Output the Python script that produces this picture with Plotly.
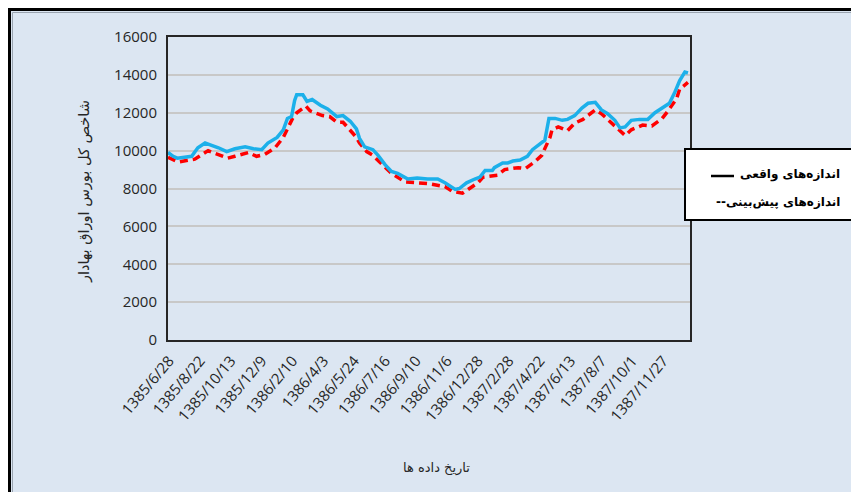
import plotly.graph_objects as go

# ---- data ----
tick_labels = ["1385/6/28", "1385/8/22", "1385/10/13", "1385/12/9", "1386/2/10",
               "1386/4/3", "1386/5/24", "1386/7/16", "1386/9/10", "1386/11/6",
               "1386/12/28", "1387/2/28", "1387/4/22", "1387/6/13", "1387/8/7",
               "1387/10/1", "1387/11/27"]
tick_days = [1 + 30 * k for k in range(len(tick_labels))]

actual_day = [0, 5, 9, 17, 23, 29, 36, 41, 49, 57, 65, 75, 83, 91, 97, 106, 112, 116,
              120, 123, 125, 131, 135, 140, 148, 155, 164, 170, 177, 183, 186, 191,
              199, 204, 211, 217, 223, 233, 242, 252, 262, 269, 279, 283, 290, 298,
              303, 308, 315, 317, 325, 330, 335, 342, 349, 354, 361, 366, 370, 376,
              383, 388, 395, 402, 408, 415, 421, 427, 434, 439, 444, 450, 458, 466,
              473, 480, 487, 492, 497, 502, 505]
actual_val = [9900, 9700, 9600, 9650, 9700, 10150, 10400, 10300, 10150, 9950, 10100,
              10200, 10100, 10050, 10400, 10700, 11100, 11700, 11800, 12650, 12950,
              12950, 12600, 12700, 12400, 12200, 11800, 11850, 11550, 11150, 10650,
              10200, 10050, 9750, 9250, 8900, 8800, 8500, 8550, 8500, 8500, 8300,
              7950, 8000, 8300, 8500, 8600, 8950, 8950, 9100, 9350, 9350, 9450, 9500,
              9700, 10050, 10350, 10550, 11700, 11700, 11600, 11650, 11850, 12250,
              12500, 12550, 12150, 11950, 11600, 11200, 11250, 11600, 11650, 11650,
              12000, 12250, 12500, 13050, 13700, 14150, 14100]

pred_day = [0, 10, 26, 39, 46, 58, 65, 78, 86, 94, 104, 112, 117, 121, 125, 134, 138,
            150, 157, 164, 170, 183, 186, 193, 199, 209, 217, 230, 248, 254, 269, 276,
            286, 293, 301, 306, 320, 327, 340, 347, 356, 363, 371, 373, 379, 388, 395,
            403, 415, 421, 429, 436, 444, 450, 461, 470, 480, 485, 494, 497, 505]
pred_val = [9650, 9400, 9550, 10000, 9850, 9600, 9700, 9900, 9700, 9800, 10150, 10700,
            11250, 11700, 12000, 12350, 12100, 11850, 11800, 11500, 11500, 10700, 10400,
            9950, 9750, 9250, 8800, 8350, 8250, 8250, 8100, 7850, 7750, 8000, 8300,
            8600, 8700, 9000, 9100, 9050, 9400, 9750, 10700, 11100, 11250, 11050, 11450,
            11650, 12150, 11950, 11550, 11250, 10800, 11100, 11350, 11300, 11700, 12050,
            12750, 13250, 13600]

y_ticks = [0, 2000, 4000, 6000, 8000, 10000, 12000, 14000, 16000]
y_tick_text = [str(v) for v in y_ticks]

# ---- layout geometry (pixels) ----
W, H = 851, 492
L, R, T, B = 168, 690, 37, 340


def px(xp):
    return (xp - L) / (R - L)


def py(yp):
    return (B - yp) / (B - T)


fig = go.Figure()
fig.add_trace(go.Scatter(x=pred_day, y=pred_val, mode="lines",
                         line=dict(color="#ff0000", width=3.5, dash="8px,5px"),
                         showlegend=False))
fig.add_trace(go.Scatter(x=actual_day, y=actual_val, mode="lines",
                         line=dict(color="#1cb0ea", width=3.5),
                         showlegend=False))

fig.update_layout(
    width=W, height=H,
    margin=dict(l=L, r=W - R, t=T, b=H - B),
    paper_bgcolor="white",
    plot_bgcolor="white",
    showlegend=False,
    xaxis=dict(range=[0, 507], tickvals=tick_days, ticktext=tick_labels,
               tickangle=-50, showgrid=False, zeroline=False, ticks="",
               showline=True, linecolor="#262626", linewidth=2, mirror=True,
               tickfont=dict(family="Open Sans", size=15, color="#262626"),
               ticklabelstandoff=4),
    yaxis=dict(range=[0, 16000], tickvals=y_ticks, ticktext=y_tick_text,
               showgrid=True, gridcolor="#c8c8c8", gridwidth=2, zeroline=False,
               ticks="", showline=True, linecolor="#262626", linewidth=2,
               mirror=True,
               tickfont=dict(family="Open Sans", size=15, color="#262626"),
               ticklabelstandoff=6),
)

shapes = [
    # outer frame
    dict(type="rect", xref="paper", yref="paper", layer="below",
         x0=px(9.5), x1=px(870), y0=py(510), y1=py(9.5),
         fillcolor="#dce6f2", line=dict(color="black", width=3)),
    dict(type="rect", xref="paper", yref="paper", layer="below",
         x0=px(12.5), x1=px(870), y0=py(510), y1=py(12.5),
         fillcolor="rgba(0,0,0,0)", line=dict(color="#9aa4b0", width=1)),
    # legend box
    dict(type="rect", xref="paper", yref="paper", layer="above",
         x0=px(685), x1=px(870), y0=py(220), y1=py(149),
         fillcolor="white", line=dict(color="black", width=2)),
    # legend line for the first entry
    dict(type="line", xref="paper", yref="paper", layer="above",
         x0=px(711), x1=px(734), y0=py(176), y1=py(176),
         line=dict(color="black", width=2.5)),
]
fig.update_layout(shapes=shapes)

fig.add_annotation(xref="paper", yref="paper", x=px(842), y=py(174),
                   text="<b>اندازه‌های واقعی</b>", showarrow=False,
                   xanchor="right", yanchor="middle",
                   font=dict(family="DejaVu Sans", size=12, color="black"))
fig.add_annotation(xref="paper", yref="paper", x=px(842), y=py(202),
                   text="<b>--اندازه‌های پیش‌بینی</b>", showarrow=False,
                   xanchor="right", yanchor="middle",
                   font=dict(family="DejaVu Sans", size=12, color="black"))
fig.add_annotation(xref="paper", yref="paper", x=px(84), y=py(192),
                   text="شاخص کل بورس اوراق بهادار", showarrow=False,
                   textangle=-90, xanchor="center", yanchor="middle",
                   font=dict(family="DejaVu Sans", size=14.5, color="#262626"))
fig.add_annotation(xref="paper", yref="paper", x=px(436), y=py(468),
                   text="تاریخ داده ها", showarrow=False,
                   xanchor="center", yanchor="middle",
                   font=dict(family="DejaVu Sans", size=13, color="#262626"))

fig.write_html(
    "out.html",
    config={"displayModeBar": False},
    post_script="document.body.style.margin='0';"
                "document.body.style.overflow='hidden';",
)
